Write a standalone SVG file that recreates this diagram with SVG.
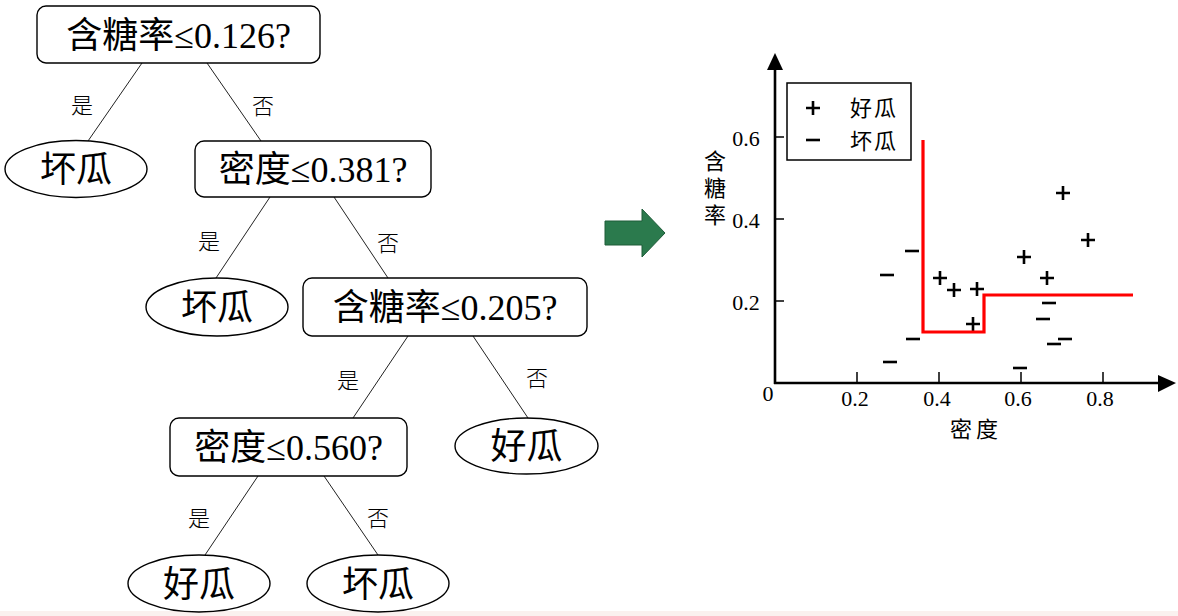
<svg xmlns="http://www.w3.org/2000/svg" width="1178" height="616" viewBox="0 0 1178 616">
<style>
.box{fill:#fff;stroke:#000;stroke-width:1.4}
.leaf{fill:#fff;stroke:#000;stroke-width:1.4}
.nt{font-family:"Liberation Serif","Noto Sans CJK SC",serif;font-size:36px;text-anchor:middle;fill:#000}
.el{font-family:"Noto Sans CJK SC",serif;font-size:22px;text-anchor:middle;fill:#000;font-weight:300}
.edge{stroke:#222;stroke-width:1;fill:none}
.ax{stroke:#000;stroke-width:2.6;fill:none}
.tk{stroke:#000;stroke-width:1.5}
.tl{font-family:"Liberation Serif",serif;font-size:22px;fill:#000;text-anchor:middle}
.cj{font-family:"Noto Sans CJK SC",serif;font-size:22px;fill:#000;text-anchor:middle}
.mk{stroke:#000;stroke-width:2.6;fill:none}
</style>
<defs>
<path id="plus" d="M-7,0H7M0,-7V7" class="mk"/>
<path id="minus" d="M-7,0H7" class="mk"/>
</defs>
<rect x="0" y="0" width="1178" height="616" fill="#fff"/>
<rect x="0" y="611" width="1178" height="5" fill="#faf1ef"/>

<g id="connectors">
<line class="edge" x1="142" y1="63" x2="88" y2="141"/>
<line class="edge" x1="207" y1="63" x2="261" y2="141"/>
<line class="edge" x1="270" y1="197" x2="216" y2="278"/>
<line class="edge" x1="334" y1="197" x2="388" y2="278"/>
<line class="edge" x1="408" y1="336" x2="353" y2="418"/>
<line class="edge" x1="473" y1="336" x2="528" y2="418"/>
<line class="edge" x1="258" y1="476" x2="205" y2="555"/>
<line class="edge" x1="324" y1="476" x2="378" y2="555"/>
<text class="el" x="82" y="113">是</text>
<text class="el" x="263" y="114">否</text>
<text class="el" x="209" y="249">是</text>
<text class="el" x="388" y="251">否</text>
<text class="el" x="348" y="388">是</text>
<text class="el" x="537" y="386">否</text>
<text class="el" x="199" y="526">是</text>
<text class="el" x="378" y="526">否</text>
</g>

<g id="n1"><rect class="box" x="37" y="6" width="283" height="57" rx="9"/><text class="nt" x="178.5" y="47.5">含糖率≤0.126?</text></g>
<g id="n2"><ellipse class="leaf" cx="76" cy="169" rx="71" ry="28.5"/><text class="nt" x="76" y="182">坏瓜</text></g>
<g id="n3"><rect class="box" x="195" y="141" width="236" height="56" rx="9"/><text class="nt" x="313" y="182">密度≤0.381?</text></g>
<g id="n4"><ellipse class="leaf" cx="217" cy="307" rx="71" ry="29"/><text class="nt" x="217" y="320">坏瓜</text></g>
<g id="n5"><rect class="box" x="303" y="278" width="284" height="58" rx="9"/><text class="nt" x="445" y="320">含糖率≤0.205?</text></g>
<g id="n6"><rect class="box" x="170" y="418" width="237" height="58" rx="9"/><text class="nt" x="288.5" y="460">密度≤0.560?</text></g>
<g id="n7"><ellipse class="leaf" cx="526.5" cy="446" rx="71.5" ry="28"/><text class="nt" x="526.5" y="459">好瓜</text></g>
<g id="n8"><ellipse class="leaf" cx="199" cy="583.5" rx="71" ry="28.5"/><text class="nt" x="199" y="596.5">好瓜</text></g>
<g id="n9"><ellipse class="leaf" cx="378" cy="583.5" rx="71" ry="28.5"/><text class="nt" x="378" y="596.5">坏瓜</text></g>

<g id="arrow">
<path d="M605,221H642V209L665,233L642,257V245H605Z" fill="#2b7a4d" stroke="#1f5c39" stroke-width="1"/>
</g>

<g id="plot">
<line class="ax" x1="775" y1="384" x2="775" y2="66"/>
<path d="M775,53L783,70H767Z" fill="#000"/>
<line class="ax" x1="774" y1="383" x2="1160" y2="383"/>
<path d="M1176,383L1158,375V392Z" fill="#000"/>
<line class="tk" x1="775" y1="137" x2="784" y2="137"/>
<line class="tk" x1="775" y1="219" x2="784" y2="219"/>
<line class="tk" x1="775" y1="301" x2="784" y2="301"/>
<line class="tk" x1="857" y1="383" x2="857" y2="372"/>
<line class="tk" x1="939" y1="383" x2="939" y2="372"/>
<line class="tk" x1="1021" y1="383" x2="1021" y2="372"/>
<line class="tk" x1="1103" y1="383" x2="1103" y2="372"/>
<text class="tl" x="746" y="146">0.6</text>
<text class="tl" x="746" y="228">0.4</text>
<text class="tl" x="746" y="310">0.2</text>
<text class="tl" x="768" y="401">0</text>
<text class="tl" x="855" y="406">0.2</text>
<text class="tl" x="937" y="406">0.4</text>
<text class="tl" x="1018" y="406">0.6</text>
<text class="tl" x="1100" y="406">0.8</text>
<text class="cj" x="976" y="437" letter-spacing="4">密度</text>
<text class="cj" x="715" y="150" style="writing-mode:vertical-rl;text-anchor:start" letter-spacing="5">含糖率</text>

<rect x="787" y="83" width="124" height="77" fill="#fff" stroke="#000" stroke-width="1.5"/>
<use href="#plus" x="813" y="108"/>
<use href="#minus" x="813" y="140"/>
<text class="cj" x="874" y="116" font-size="23" letter-spacing="2">好瓜</text>
<text class="cj" x="874" y="149" font-size="23" letter-spacing="2">坏瓜</text>

<use href="#plus" x="1063" y="193"/>
<use href="#plus" x="1088" y="240"/>
<use href="#plus" x="1024" y="257"/>
<use href="#plus" x="1047" y="278"/>
<use href="#plus" x="940" y="278"/>
<use href="#plus" x="954" y="290"/>
<use href="#plus" x="977" y="289"/>
<use href="#plus" x="973" y="324"/>

<use href="#minus" x="912" y="251"/>
<use href="#minus" x="887" y="275"/>
<use href="#minus" x="913" y="339"/>
<use href="#minus" x="890" y="362"/>
<use href="#minus" x="1020" y="368"/>
<use href="#minus" x="1049" y="303"/>
<use href="#minus" x="1043" y="319"/>
<use href="#minus" x="1054" y="344"/>
<use href="#minus" x="1065" y="339"/>

<path d="M923,140V332H984V295H1133" fill="none" stroke="#ff0000" stroke-width="3.2"/>
</g>
</svg>
